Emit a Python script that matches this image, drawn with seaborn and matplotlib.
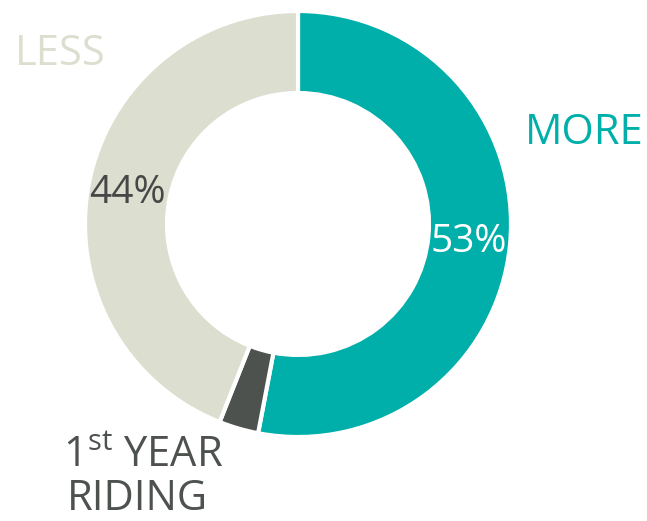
import matplotlib
matplotlib.use("Agg")
import matplotlib.pyplot as plt
import seaborn as sns

categories = ["MORE", "1st YEAR RIDING", "LESS"]
shares = [53, 3, 44]
pct_labels = ["53%", "", "44%"]
colors = ["#00AFA9", "#4D524F", "#DCDFCF"]

sns.set_theme(style="white")
plt.rcParams['font.family'] = ['Open Sans', 'DejaVu Sans']
plt.rcParams['mathtext.fontset'] = 'custom'
plt.rcParams['mathtext.rm'] = 'Open Sans'

fig = plt.figure(figsize=(6.47, 5.21), dpi=100)
# donut centre ~ (298, 224) px, outer radius ~213 px
ax = fig.add_axes([85 / 647, 84 / 521, 426 / 647, 426 / 521])

wedges, _ = ax.pie(shares,
                   colors=colors,
                   startangle=90,
                   counterclock=False,
                   radius=1,
                   wedgeprops=dict(width=0.385, edgecolor="white", linewidth=3))
ax.set_xlim(-1, 1)
ax.set_ylim(-1, 1)
ax.axis("off")

# percent labels
ax.text(0.80, -0.085, pct_labels[0], color="white", fontsize=28,
        ha="center", va="center")
ax.text(-0.80, 0.146, pct_labels[2], color="#474747", fontsize=28,
        ha="center", va="center")

# category labels
fs = 30
ax.text(1.345, 0.425, categories[0], color=colors[0], fontsize=fs,
        ha="center", va="center")
ax.text(-1.117, 0.800, categories[2], color=colors[2], fontsize=fs,
        ha="center", va="center")
ax.text(-1.105, -1.09, "1$^{\\mathrm{st}}$ YEAR", color="#4D524F",
        fontsize=fs, ha="left", va="center")
ax.text(-1.087, -1.29, "RIDING", color="#4D524F", fontsize=fs,
        ha="left", va="center")

fig.savefig("out.png", dpi=100)
